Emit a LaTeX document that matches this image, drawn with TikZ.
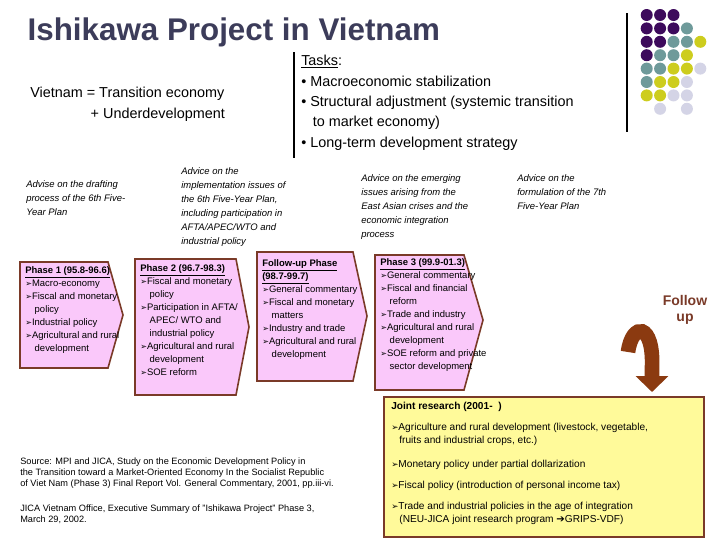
\documentclass[tikz,border=0pt]{standalone}
\usepackage{fontspec}
\setmainfont{Liberation Sans}
\newfontfamily\dv{DejaVu Sans}
\newcommand\bul{{\dv\fontsize{0.85em}{1em}\selectfont ➢}}
\newcommand\rarr{{\dv ➔}}
\usetikzlibrary{arrows.meta}
\definecolor{pk}{HTML}{FAC8FA}
\definecolor{br}{HTML}{7A3A28}
\definecolor{yl}{HTML}{FFFA9A}
\definecolor{ttl}{HTML}{3C3C5A}
\definecolor{dP}{HTML}{3D0A5C}
\definecolor{dT}{HTML}{6E9A9A}
\definecolor{dY}{HTML}{CDCD1E}
\definecolor{dL}{HTML}{D4D4E6}
\definecolor{nn}{HTML}{FFFFFF}
\definecolor{arr}{HTML}{8B3A10}
\begin{document}
\begin{tikzpicture}[x=0.75pt,y=-0.75pt,
 pent/.style={fill=pk,draw=br,line width=1.2pt},
 ptxt/.style={anchor=north west,align=left,font=\fontsize{7.1}{9.8}\selectfont,inner sep=0pt},
 adv/.style={anchor=north west,align=left,font=\fontsize{7.1}{10.5}\selectfont\itshape,inner sep=0pt},
 jtx/.style={anchor=north west,align=left,font=\fontsize{7.6}{10}\selectfont,inner sep=0pt},
 dot/.style={circle,inner sep=0pt,minimum size=9pt}]
\useasboundingbox (0,0) rectangle (720,540);
\fill[white] (0,0) rectangle (720,540);
\node[anchor=west,text=ttl,font=\fontsize{23.5}{26}\selectfont\bfseries] (title) at (23,32) {Ishikawa Project in Vietnam};
% dots
\def\drow#1#2{\foreach \c [count=\i] in {#2}{\node[dot,fill=\c] (d#1\i) at (646.7+13.4*\i-13.4,15+13.4*#1-13.4) {};}}
\drow{1}{dP,dP,dP}
\drow{2}{dP,dP,dP,dT}
\drow{3}{dP,dP,dT,dT,dY}
\drow{4}{dP,dT,dT,dY}
\drow{5}{dT,dT,dY,dY,dL}
\drow{6}{dT,dY,dY,dL}
\drow{7}{dY,dY,dL,dL}
\drow{8}{nn,dL,nn,dL}
\draw[line width=0.8pt] (627,13) coordinate (v1) -- (627,132) coordinate (v2);
\node[anchor=north west,align=left,font=\fontsize{10.8}{15.5}\selectfont,inner sep=0pt] (eco) at (30,87) {Vietnam = Transition economy\\\hspace*{4.2em}+ Underdevelopment};
\node[anchor=north west,align=left,font=\fontsize{10.8}{15.3}\selectfont,inner sep=0pt] (tasks) at (301,55) {\underline{Tasks}:\\• Macroeconomic stabilization\\• Structural adjustment (systemic transition\\\hspace*{0.8em}to market economy)\\• Long-term development strategy};
\draw[line width=0.8pt] (294,52) coordinate (w1) -- (294,158) coordinate (w2);
\node[adv] (a1) at (26,180) {Advise on the drafting\\process of the 6th Five-\\Year Plan};
\node[adv] (a2) at (181,167) {Advice on the\\implementation issues of\\the 6th Five-Year Plan,\\including participation in\\AFTA/APEC/WTO and\\industrial policy};
\node[adv] (a3) at (361,174) {Advice on the emerging\\issues arising from the\\East Asian crises and the\\economic integration\\process};
\node[adv] (a4) at (517,174) {Advice on the\\formulation of the 7th\\Five-Year Plan};
% pentagons
\draw[pent] (20,262) -- (108,262) -- (123,315) -- (108,368) -- (20,368) -- cycle;
\draw[pent] (135,259) -- (236,259) -- (249,327) -- (236,395) -- (135,395) -- cycle;
\draw[pent] (257,252) -- (353,252) -- (367,316) -- (353,381) -- (257,381) -- cycle;
\draw[pent] (375,255) -- (464,255) -- (483,320) -- (464,390) -- (375,390) -- cycle;
\node[ptxt] (p1) at (25,266) {\textbf{\underline{Phase 1 (95.8-96.6)}}\\\bul Macro-economy\\\bul Fiscal and monetary\\\hspace*{1em}policy\\\bul Industrial policy\\\bul Agricultural and rural\\\hspace*{1em}development};
\node[ptxt] (p2) at (140,264) {\textbf{\underline{Phase 2 (96.7-98.3)}}\\\bul Fiscal and monetary\\\hspace*{1em}policy\\\bul Participation in AFTA/\\\hspace*{1em}APEC/ WTO and\\\hspace*{1em}industrial policy\\\bul Agricultural and rural\\\hspace*{1em}development\\\bul SOE reform};
\node[ptxt] (p3) at (262,259) {\textbf{\underline{Follow-up Phase}}\\\textbf{\underline{(98.7-99.7)}}\\\bul General commentary\\\bul Fiscal and monetary\\\hspace*{1em}matters\\\bul Industry and trade\\\bul Agricultural and rural\\\hspace*{1em}development};
\node[ptxt] (p4) at (380,258) {\textbf{\underline{Phase 3 (99.9-01.3)}}\\\bul General commentary\\\bul Fiscal and financial\\\hspace*{1em}reform\\\bul Trade and industry\\\bul Agricultural and rural\\\hspace*{1em}development\\\bul SOE reform and private\\\hspace*{1em}sector development};
% follow up
\node[font=\fontsize{10.5}{11.5}\selectfont\bfseries,text=br,align=center] (fu) at (685,310) {Follow\\up};
\coordinate (fs) at (628,352);
\coordinate (fe) at (652,392);
\draw[arr,line width=11pt,-{Triangle[length=12pt,width=24pt]}] (fs) .. controls (632,322) and (654,322) .. (652,368) -- (fe);
% yellow box
\node[draw=br,fill=yl,line width=1.2pt,minimum width=240pt,minimum height=105pt,anchor=north west] (jr) at (383,396) {};
\node[jtx] (jt) at (391,402) {\textbf{Joint research (2001-\ \ )}};
\node[jtx] (j1) at (391,423) {\bul Agriculture and rural development (livestock, vegetable,\\\hspace*{0.8em}fruits and industrial crops, etc.)};
\node[jtx] (j2) at (391,460) {\bul Monetary policy under partial dollarization};
\node[jtx] (j3) at (391,481) {\bul Fiscal policy (introduction of personal income tax)};
\node[jtx] (j4) at (391,502) {\bul Trade and industrial policies in the age of integration\\\hspace*{0.8em}(NEU-JICA joint research program \rarr GRIPS-VDF)};
\node[anchor=north west,align=left,font=\fontsize{6.9}{8.2}\selectfont,inner sep=0pt] (src) at (20,458) {Source: MPI and JICA, Study on the Economic Development Policy in\\the Transition toward a Market-Oriented Economy In the Socialist Republic\\of Viet Nam (Phase 3) Final Report Vol. General Commentary, 2001, pp.iii-vi.};
\node[anchor=north west,align=left,font=\fontsize{6.9}{8.2}\selectfont,inner sep=0pt] (src2) at (20,505) {JICA Vietnam Office, Executive Summary of "Ishikawa Project" Phase 3,\\March 29, 2002.};
\end{tikzpicture}
\end{document}
